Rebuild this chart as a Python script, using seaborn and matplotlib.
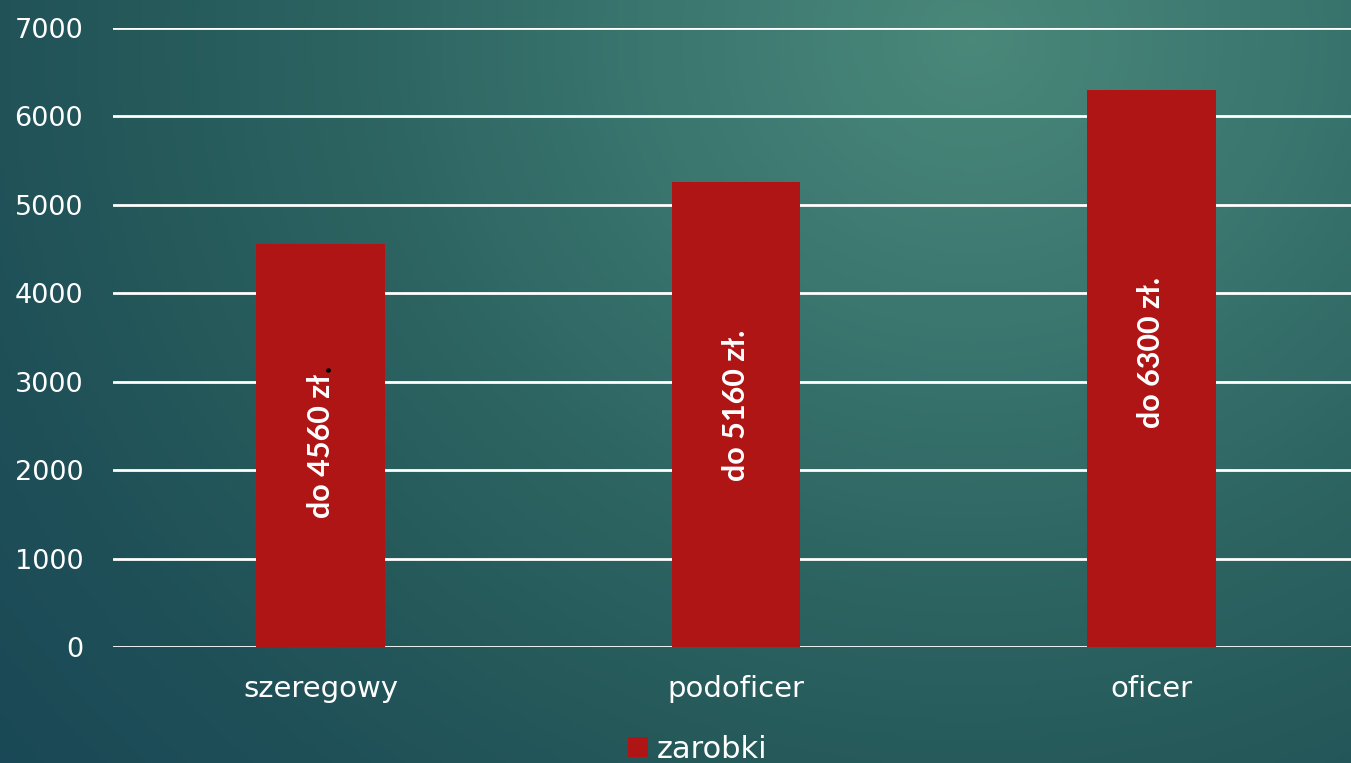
import seaborn as sns
import pandas as pd
import numpy as np
import matplotlib.pyplot as plt
from matplotlib.colors import LinearSegmentedColormap

categories = ['szeregowy', 'podoficer', 'oficer']
zarobki = [4560, 5260, 6300]
labels = ['do 4560 zł', 'do 5160 zł.', 'do 6300 zł.']
label_y = [2270, 2730, 3330]
yticks = [0, 1000, 2000, 3000, 4000, 5000, 6000, 7000]

df = pd.DataFrame({'kat': categories, 'zarobki': zarobki})

sns.set_style('white')
plt.rcParams['font.family'] = ['DejaVu Sans']

fig = plt.figure(figsize=(13.51, 7.63), dpi=100)

# background gradient, light spot at upper middle-right
bg = fig.add_axes([0, 0, 1, 1], zorder=-10)
xx, yy = np.meshgrid(np.linspace(0, 1, 400), np.linspace(0, 1, 240))
d = np.sqrt((xx - 0.72) ** 2 + ((yy - 0.05) / 1.6) ** 2)
cm = LinearSegmentedColormap.from_list(
    'bg', [(0, '#4a887a'), (0.25, '#3b766f'), (0.45, '#2e6663'),
           (0.65, '#25595a'), (0.8, '#1f5058'), (1, '#1a4856')])
bg.imshow(d, cmap=cm, aspect='auto', extent=[0, 1, 1, 0], vmin=0, vmax=0.95)
bg.axis('off')

ax = fig.add_axes([113 / 1351, 1 - 647 / 763, 1246 / 1351, 619 / 763])
ax.patch.set_alpha(0)
sns.barplot(data=df, x='kat', y='zarobki', color='#b01515', saturation=1,
            width=0.31, ax=ax, label='zarobki', linewidth=0, zorder=3)

txts = []
for i, (y, t) in enumerate(zip(label_y, labels)):
    txts.append(ax.text(i, y, t, rotation=90, ha='center', va='center',
                        color='white', fontsize=22, fontweight='bold',
                        family=['Lato', 'DejaVu Sans'], zorder=4))

ax.set_ylim(0, 7000)
ax.set_xlim(-0.5, 2.5)
ax.set_yticks(yticks)
ax.yaxis.grid(True, color='white', linewidth=2, zorder=0)
ax.set_axisbelow(True)
for s in ax.spines.values():
    s.set_visible(False)
ax.tick_params(axis='both', length=0, colors='white')
ax.tick_params(axis='y', pad=21.5, labelsize=19.5)
ax.tick_params(axis='x', pad=20, labelsize=21)
ax.set_xlabel('')
ax.set_ylabel('')

leg = ax.legend(loc='center', bbox_to_anchor=(0.5 - 38.5 / 1246, -0.165),
                frameon=False, fontsize=22, handlelength=0.65, handleheight=0.65,
                handletextpad=0.3, labelcolor='white')

# stray black full stop after the first label
fig.canvas.draw()
bb = txts[0].get_window_extent()
fig.text((bb.x1 - 13) / fig.bbox.width, (bb.y1 + 2) / fig.bbox.height, '.',
         color='black', fontsize=22, fontweight='bold', rotation=90,
         ha='center', va='bottom', family='Lato')

fig.savefig('out.png', dpi=100)
